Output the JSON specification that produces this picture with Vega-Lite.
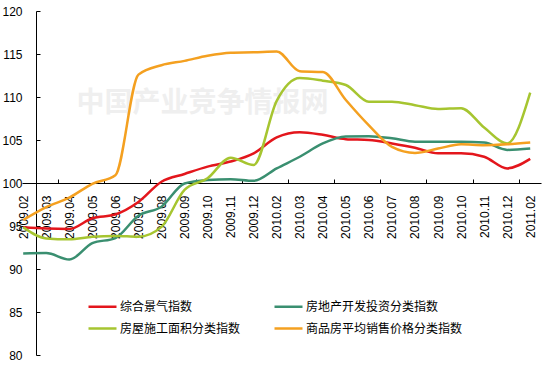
{
  "$schema": "https://vega.github.io/schema/vega-lite/v6.json",
  "autosize": {"type": "none"},
  "padding": {"left": 22, "top": 11, "right": 2, "bottom": 23},
  "width": 519,
  "height": 344,
  "background": "white",
  "config": {"view": {"stroke": null}},
  "datasets": {
    "series": [
      {"month": "2009.02", "series": "综合景气指数", "value": 94.85},
      {"month": "2009.03", "series": "综合景气指数", "value": 94.7},
      {"month": "2009.04", "series": "综合景气指数", "value": 94.65},
      {"month": "2009.05", "series": "综合景气指数", "value": 95.9},
      {"month": "2009.06", "series": "综合景气指数", "value": 96.35},
      {"month": "2009.07", "series": "综合景气指数", "value": 97.8},
      {"month": "2009.08", "series": "综合景气指数", "value": 100.15},
      {"month": "2009.09", "series": "综合景气指数", "value": 101.05},
      {"month": "2009.10", "series": "综合景气指数", "value": 101.9},
      {"month": "2009.11", "series": "综合景气指数", "value": 102.5},
      {"month": "2009.12", "series": "综合景气指数", "value": 103.45},
      {"month": "2010.02", "series": "综合景气指数", "value": 105.3},
      {"month": "2010.03", "series": "综合景气指数", "value": 105.9},
      {"month": "2010.04", "series": "综合景气指数", "value": 105.6},
      {"month": "2010.05", "series": "综合景气指数", "value": 105.1},
      {"month": "2010.06", "series": "综合景气指数", "value": 105.0},
      {"month": "2010.07", "series": "综合景气指数", "value": 104.6},
      {"month": "2010.08", "series": "综合景气指数", "value": 104.1},
      {"month": "2010.09", "series": "综合景气指数", "value": 103.45},
      {"month": "2010.10", "series": "综合景气指数", "value": 103.45},
      {"month": "2010.11", "series": "综合景气指数", "value": 103.05},
      {"month": "2010.12", "series": "综合景气指数", "value": 101.7},
      {"month": "2011.02", "series": "综合景气指数", "value": 102.8},
      {"month": "2009.02", "series": "房地产开发投资分类指数", "value": 91.8},
      {"month": "2009.03", "series": "房地产开发投资分类指数", "value": 91.85},
      {"month": "2009.04", "series": "房地产开发投资分类指数", "value": 91.1},
      {"month": "2009.05", "series": "房地产开发投资分类指数", "value": 93.0},
      {"month": "2009.06", "series": "房地产开发投资分类指数", "value": 93.6},
      {"month": "2009.07", "series": "房地产开发投资分类指数", "value": 96.2},
      {"month": "2009.08", "series": "房地产开发投资分类指数", "value": 97.25},
      {"month": "2009.09", "series": "房地产开发投资分类指数", "value": 99.95},
      {"month": "2009.10", "series": "房地产开发投资分类指数", "value": 100.35},
      {"month": "2009.11", "series": "房地产开发投资分类指数", "value": 100.45},
      {"month": "2009.12", "series": "房地产开发投资分类指数", "value": 100.25},
      {"month": "2010.02", "series": "房地产开发投资分类指数", "value": 101.7},
      {"month": "2010.03", "series": "房地产开发投资分类指数", "value": 103.05},
      {"month": "2010.04", "series": "房地产开发投资分类指数", "value": 104.6},
      {"month": "2010.05", "series": "房地产开发投资分类指数", "value": 105.4},
      {"month": "2010.06", "series": "房地产开发投资分类指数", "value": 105.45},
      {"month": "2010.07", "series": "房地产开发投资分类指数", "value": 105.2},
      {"month": "2010.08", "series": "房地产开发投资分类指数", "value": 104.8},
      {"month": "2010.09", "series": "房地产开发投资分类指数", "value": 104.8},
      {"month": "2010.10", "series": "房地产开发投资分类指数", "value": 104.8},
      {"month": "2010.11", "series": "房地产开发投资分类指数", "value": 104.7},
      {"month": "2010.12", "series": "房地产开发投资分类指数", "value": 103.85},
      {"month": "2011.02", "series": "房地产开发投资分类指数", "value": 104.0},
      {"month": "2009.02", "series": "房屋施工面积分类指数", "value": 94.85},
      {"month": "2009.03", "series": "房屋施工面积分类指数", "value": 93.55},
      {"month": "2009.04", "series": "房屋施工面积分类指数", "value": 93.45},
      {"month": "2009.05", "series": "房屋施工面积分类指数", "value": 93.75},
      {"month": "2009.06", "series": "房屋施工面积分类指数", "value": 93.85},
      {"month": "2009.07", "series": "房屋施工面积分类指数", "value": 93.75},
      {"month": "2009.08", "series": "房屋施工面积分类指数", "value": 94.9},
      {"month": "2009.09", "series": "房屋施工面积分类指数", "value": 99.2},
      {"month": "2009.10", "series": "房屋施工面积分类指数", "value": 100.55},
      {"month": "2009.11", "series": "房屋施工面积分类指数", "value": 102.95},
      {"month": "2009.12", "series": "房屋施工面积分类指数", "value": 102.1},
      {"month": "2010.02", "series": "房屋施工面积分类指数", "value": 109.55},
      {"month": "2010.03", "series": "房屋施工面积分类指数", "value": 112.2},
      {"month": "2010.04", "series": "房屋施工面积分类指数", "value": 111.9},
      {"month": "2010.05", "series": "房屋施工面积分类指数", "value": 111.4},
      {"month": "2010.06", "series": "房屋施工面积分类指数", "value": 109.45},
      {"month": "2010.07", "series": "房屋施工面积分类指数", "value": 109.45},
      {"month": "2010.08", "series": "房屋施工面积分类指数", "value": 109.05},
      {"month": "2010.09", "series": "房屋施工面积分类指数", "value": 108.6},
      {"month": "2010.10", "series": "房屋施工面积分类指数", "value": 108.7},
      {"month": "2010.11", "series": "房屋施工面积分类指数", "value": 106.45},
      {"month": "2010.12", "series": "房屋施工面积分类指数", "value": 104.6},
      {"month": "2011.02", "series": "房屋施工面积分类指数", "value": 110.5},
      {"month": "2009.02", "series": "商品房平均销售价格分类指数", "value": 95.7},
      {"month": "2009.03", "series": "商品房平均销售价格分类指数", "value": 97.2},
      {"month": "2009.04", "series": "商品房平均销售价格分类指数", "value": 98.3},
      {"month": "2009.05", "series": "商品房平均销售价格分类指数", "value": 99.9},
      {"month": "2009.06", "series": "商品房平均销售价格分类指数", "value": 100.9},
      {"month": "2009.07", "series": "商品房平均销售价格分类指数", "value": 112.6},
      {"month": "2009.08", "series": "商品房平均销售价格分类指数", "value": 113.7},
      {"month": "2009.09", "series": "商品房平均销售价格分类指数", "value": 114.2},
      {"month": "2009.10", "series": "商品房平均销售价格分类指数", "value": 114.8},
      {"month": "2009.11", "series": "商品房平均销售价格分类指数", "value": 115.15},
      {"month": "2009.12", "series": "商品房平均销售价格分类指数", "value": 115.2},
      {"month": "2010.02", "series": "商品房平均销售价格分类指数", "value": 115.3},
      {"month": "2010.03", "series": "商品房平均销售价格分类指数", "value": 113.0},
      {"month": "2010.04", "series": "商品房平均销售价格分类指数", "value": 112.9},
      {"month": "2010.05", "series": "商品房平均销售价格分类指数", "value": 109.65},
      {"month": "2010.06", "series": "商品房平均销售价格分类指数", "value": 106.7},
      {"month": "2010.07", "series": "商品房平均销售价格分类指数", "value": 104.2},
      {"month": "2010.08", "series": "商品房平均销售价格分类指数", "value": 103.5},
      {"month": "2010.09", "series": "商品房平均销售价格分类指数", "value": 104.0},
      {"month": "2010.10", "series": "商品房平均销售价格分类指数", "value": 104.5},
      {"month": "2010.11", "series": "商品房平均销售价格分类指数", "value": 104.4},
      {"month": "2010.12", "series": "商品房平均销售价格分类指数", "value": 104.5},
      {"month": "2011.02", "series": "商品房平均销售价格分类指数", "value": 104.7}
    ],
    "watermark": [{"t": "中国产业竞争情报网", "month": "2009.10", "value": 109.2}]
  },
  "resolve": {"axis": {"x": "independent"}},
  "layer": [
    {
      "data": {"name": "watermark"},
      "mark": {"type": "text", "font": "Noto Sans CJK SC", "fontSize": 28, "fontWeight": "bold", "color": "#efefef", "dx": -5, "baseline": "middle", "align": "center"},
      "encoding": {
        "text": {"field": "t"},
        "x": {"field": "month", "type": "ordinal",
          "axis": {"orient": "bottom", "offset": -172, "labels": false, "domain": false, "ticks": true, "tickSize": -4, "tickColor": "black", "tickOffset": 11.5, "title": null,
            "values": ["2009.03", "2009.05", "2009.07", "2009.09", "2009.11", "2010.02", "2010.04", "2010.06", "2010.08", "2010.10", "2010.12"]}},
        "y": {"field": "value", "type": "quantitative"}
      }
    },
    {
      "data": {"name": "series"},
      "mark": {"type": "line", "interpolate": "monotone", "strokeWidth": 2.5},
      "encoding": {
        "x": {"field": "month", "type": "ordinal",
          "scale": {"type": "point", "padding": 0.26, "align": 0.1,
            "domain": ["2009.02", "2009.03", "2009.04", "2009.05", "2009.06", "2009.07", "2009.08", "2009.09", "2009.10", "2009.11", "2009.12", "2010.02", "2010.03", "2010.04", "2010.05", "2010.06", "2010.07", "2010.08", "2010.09", "2010.10", "2010.11", "2010.12", "2011.02"]},
          "axis": {"orient": "bottom", "offset": -172, "labelAngle": -90, "ticks": false, "labelPadding": 12, "domainColor": "black", "domainWidth": 1, "title": null, "labelFont": "Liberation Sans", "labelFontSize": 12, "labelColor": "black"}},
        "y": {"field": "value", "type": "quantitative",
          "scale": {"domain": [80, 120], "zero": false, "nice": false},
          "axis": {"values": [80, 85, 90, 95, 100, 105, 110, 115, 120], "offset": -14, "tickSize": -4, "tickColor": "black", "labelPadding": 18, "grid": false, "domainColor": "black", "title": null, "labelFont": "Liberation Sans", "labelFontSize": 12, "labelColor": "black"}},
        "color": {"field": "series", "type": "nominal",
          "scale": {"domain": ["综合景气指数", "房屋施工面积分类指数", "房地产开发投资分类指数", "商品房平均销售价格分类指数"], "range": ["#E3161C", "#A6C530", "#3A8F70", "#F4A020"]},
          "legend": {"orient": "none", "legendX": 65, "legendY": 280, "columns": 2, "columnPadding": 28, "rowPadding": -1, "padding": 0, "symbolType": "stroke", "symbolSize": 784, "symbolStrokeWidth": 2.5, "labelFont": "Noto Sans CJK SC", "labelFontSize": 12, "labelColor": "black", "labelOffset": 2, "labelLimit": 0, "title": null}}
      }
    }
  ]
}
